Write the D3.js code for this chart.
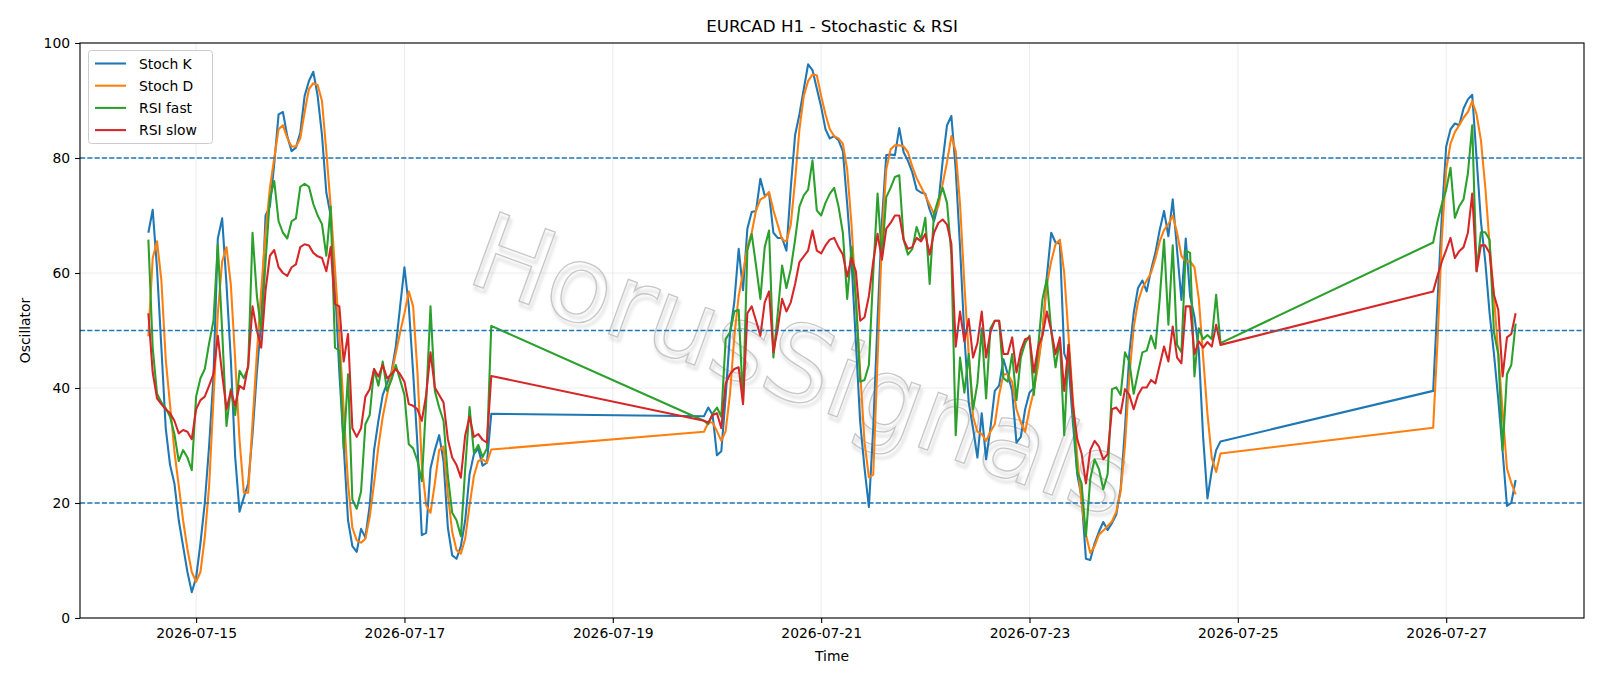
<!DOCTYPE html>
<html lang="en">
<head>
<meta charset="utf-8"/>
<title>EURCAD H1 - Stochastic & RSI</title>
<script src="https://d3js.org/d3.v7.min.js"></script>
<style>
  body { margin: 0; background: #fff; }
  svg text { font-family: "DejaVu Sans", sans-serif; }
</style>
</head>
<body>
<div id="chart"></div>
<script>
const width = 1600;
const height = 686;
const margin = {top: 43, right: 16, bottom: 68, left: 80};

// hourly bars, one block per trading session (UTC)
const sessionStarts = ["2026-07-14T13:00:00Z", "2026-07-19T21:00:00Z", "2026-07-26T21:00:00Z"];
const sessionBars = [80, 120, 20];

const stochK = [
  67, 71, 60.7, 47, 33, 26.6, 23.4, 17, 12.5, 8,
  4.5, 7, 13, 20, 30, 42, 66, 69.5, 58, 45,
  28, 18.5, 21, 23.4, 32, 42.7, 51.7, 70, 71.6, 79,
  87.6, 88, 83.8, 81.2, 81.8, 84.4, 90.8, 93.4, 95, 90.8,
  84, 74, 70, 58, 42.7, 30, 17, 12.5, 11.5, 15.5,
  14, 19.6, 29.2, 34.3, 38.8, 40.8, 42.7, 47.2, 54.2, 61,
  54.2, 42.7, 30, 14.4, 14.8, 26, 29.2, 31.8, 27.3, 15.7,
  10.9, 10.3, 12.5, 17, 25, 28.5, 29.5, 26.5, 27, 35.5,
  // session 2
  35.1, 36.6, 35.3, 28.3, 29, 38.5, 49.5, 55, 64.2, 57,
  67.7, 70.6, 70.8, 76.4, 73.5, 73.8, 67, 66.1, 66.1, 63.9,
  74.8, 84, 87.6, 92, 96.3, 95.3, 92.1, 88.9, 85, 83.4,
  83.8, 83.1, 81.2, 72, 62, 48, 34, 26, 19.3, 33,
  52, 69, 80.5, 80.6, 80.5, 85.2, 81, 79.5, 77.5, 74.5,
  74, 73.8, 71, 69, 72, 79.5, 85.7, 87.3, 78, 64.5,
  49, 37.5, 33, 27.9, 35.6, 27.6, 33, 39.5, 40.4, 45,
  42.4, 39.5, 30.5, 31.5, 36.3, 39.2, 40, 44.6, 49.7, 59.4,
  67, 65.3, 65.1, 46, 44, 34, 25, 21, 10.3, 10.1,
  13, 15, 16.7, 15.3, 16.5, 18, 22.5, 33, 46, 53,
  57.4, 58.7, 56.8, 60.5, 63.5, 67.5, 70.8, 66.4, 72.8, 64,
  55.3, 66, 56, 52.4, 46.6, 31.5, 20.8, 25.7, 29.2, 30.7,
  // session 3
  39.5, 55, 70, 82, 85, 86, 85.7, 88.6, 90.2, 91,
  80, 69, 62, 53, 46, 38, 29, 19.5, 20, 24
];

const stochD = [
  49, 62.6, 65.5, 58.7, 45, 37, 29, 23, 17, 12,
  8, 6.3, 8, 14, 23, 38, 53, 62, 64.5, 58,
  45, 31, 21.8, 21.8, 34, 46, 57, 67, 74.8, 80,
  85, 85.7, 83.5, 82, 82, 83.4, 88, 92, 93, 92.7,
  89.9, 81.2, 71.6, 60.7, 49.1, 36.3, 23.4, 15.7, 13.5, 13.1,
  13.8, 17.6, 23.4, 29.8, 35, 38.8, 42.4, 46, 49.7, 53,
  56.8, 54.2, 42.7, 26.6, 19.6, 18.3, 23.4, 29.2, 29.8, 21.5,
  15, 11.8, 11.2, 13.8, 19.6, 24.7, 27.3, 27.6, 27, 29.3,
  // session 2
  32.4, 34, 34, 32.5, 30.8, 32.5, 39, 49, 56, 60,
  64.5, 67, 70.9, 72.8, 73.2, 74.1, 70.9, 68.4, 65.8, 65.5,
  68.4, 76.1, 85, 90.8, 93.4, 94.5, 94.4, 90.8, 87.6, 85,
  83.8, 83.4, 82.5, 78, 68.4, 55.5, 42.7, 30.5, 24.5, 24.9,
  45, 66, 78, 81.5, 82.2, 82.2, 82, 81, 78.5, 76.5,
  75, 73.5, 71.9, 70.3, 71.6, 75.5, 79.3, 83.8, 81.2, 72,
  58, 45.8, 35, 32.4, 32, 30.8, 32.4, 33.7, 38.8, 42.4,
  42.4, 41.1, 36.3, 34, 32.4, 36.3, 39.5, 44, 49.7, 58,
  62, 65, 65.8, 60, 49, 38, 28, 20, 14.5, 11.3,
  12.5, 14.5, 15.2, 16, 16.8, 18.5, 22, 30, 42, 50.5,
  55, 57.4, 58.7, 60, 62.5, 65.5, 67.5, 68.5, 70, 67,
  63, 62, 62, 61, 55.5, 45.5, 35.5, 27.8, 25.4, 28.6,
  // session 3
  33.1, 48, 66, 78, 82.5, 84.5, 85.7, 87, 88, 89.9,
  87.6, 83.1, 75, 65, 56, 46, 36, 26, 23.5, 21.5
];

const rsiFast = [
  65.8, 47, 39, 37.5, 36.5, 35, 32, 27.3, 29.2, 27.9,
  25.7, 38.5, 41.7, 43.3, 47.8, 51.7, 65, 50, 33.4, 39.8,
  35.3, 43, 41.7, 43.6, 67, 56, 50, 62, 73, 76,
  69, 67, 66, 69, 69.5, 75, 75.5, 75, 72, 70,
  68.5, 63, 71.5, 47, 46.5, 29.5, 42.4, 20.6, 19, 22,
  33.7, 35.3, 43.3, 40.4, 44.6, 39.5, 41.4, 44, 41.4, 38.8,
  30.2, 29.5, 27.3, 23.8, 37.5, 54.2, 39.5, 36.6, 34.3, 24.7,
  18.3, 17, 14.2, 26, 36.7, 28.7, 30.1, 28, 29.5, 50.8,
  // session 2
  34.3, 33.7, 35.6, 36.6, 35, 48.5, 49.7, 53.3, 53.6, 37.5,
  63.9, 66.8, 61.3, 55.5, 64.5, 67.4, 45.3, 53, 61.3, 57.4,
  60.7, 65.8, 71.6, 73.5, 74.5, 79.6, 70.9, 70, 72.2, 73.8,
  74.8, 71.6, 67, 55.5, 64.5, 55.5, 41.1, 41.4, 44, 60,
  73.8, 62.6, 73.2, 74.8, 76.7, 77, 65.8, 63.2, 64.2, 68,
  65.8, 69.6, 58.1, 70.3, 72.8, 74.8, 72.2, 63.2, 31.8, 45.3,
  39.2, 45.9, 36.3, 40.8, 50.4, 38.2, 50.4, 51.7, 51.7, 41.7,
  41.1, 45.9, 37.9, 45.3, 47.8, 49.1, 38.8, 47.2, 55.5, 59,
  50, 43.6, 48.5, 31.8, 47.5, 36, 25.4, 23.4, 14.2, 24.2,
  27.6, 25.9, 22.4, 25, 39.8, 40.1, 38.8, 46.2, 44.6, 39,
  42.7, 46.2, 46.5, 49.1, 46.9, 55.5, 65.8, 51, 64.8, 47.5,
  46.2, 63.9, 63.5, 42, 50.4, 48.5, 49.2, 48.5, 56.2, 47.8,
  // session 3
  65.3, 69, 72, 74.5, 78.3, 69.6, 71.6, 72.8, 77.3, 85.7,
  60.3, 67.1, 67.1, 65.8, 49.7, 45.9, 29.2, 42.4, 44, 51.2
];

const rsiSlow = [
  53, 42.7, 38.2, 37.2, 36.3, 35.6, 34.3, 32.1, 32.7, 32.4,
  31.1, 36.3, 37.9, 38.5, 40.4, 42.4, 49.1, 42.4, 36.3, 39.5,
  36.9, 40.4, 39.8, 44, 54.2, 50, 47, 57, 63, 64,
  61, 60, 59.5, 61, 61.5, 64.5, 65, 64.8, 63.5, 62.9,
  62.6, 60.3, 64.5, 54.6, 54.2, 44.6, 49.4, 33, 31.5, 33,
  38.5, 39.8, 43.3, 42, 44, 41.7, 42.4, 43.3, 42.4, 41.1,
  37.2, 36.9, 36.3, 34.3, 38.8, 46.2, 40.1, 38.8, 37.5, 31.1,
  27.9, 26.6, 24.4, 31.8, 35, 31.5, 32, 31, 30.5, 42.1,
  // session 2
  34.3, 34, 35.3, 35.6, 33, 40.8, 42.4, 43.3, 43.6, 37.2,
  53, 54.2, 51.7, 49.1, 54.9, 56.8, 46.2, 50.4, 55.5, 53.3,
  54.9, 58.1, 61.9, 62.9, 63.9, 67.4, 63.9, 63.4, 64.8, 65.8,
  66.1, 64.5, 63.2, 59.4, 62.6, 60.3, 51.7, 52.3, 56, 62,
  66.8, 62.3, 67.7, 68.7, 70, 70, 65.8, 64.2, 64.5, 66.1,
  65.5, 66.8, 63.2, 67, 68.7, 69.3, 68.4, 65.1, 47.2, 53.3,
  48.1, 52, 45.3, 47.8, 53.3, 45.3, 49.7, 51.7, 51.7, 45.9,
  45.9, 48.8, 42.7, 46.5, 48.5, 48.8, 42.7, 47.2, 49.1, 53.3,
  50, 45.9, 48.8, 39.5, 47.5, 37, 31.1, 28.6, 23.4, 29.2,
  30.8, 29.8, 27.6, 28.5, 36.3, 36.6, 35.6, 39.8, 38.8, 36.3,
  38.8, 40.1, 40.1, 41.4, 40.8, 44, 47.2, 44.6, 50.7, 45.3,
  44.3, 54.2, 54.2, 45.9, 48.1, 47, 48, 47.2, 51, 47.5,
  // session 3
  56.8, 59.5, 62, 64, 66.1, 62.6, 63.8, 64.5, 67, 73.8,
  60.3, 64.8, 64.8, 63.5, 56.2, 53.6, 42, 48.8, 49.4, 53
];

const seriesNames = ["Stoch K", "Stoch D", "RSI fast", "RSI slow"];
const seriesColors = ["#1f77b4", "#ff7f0e", "#2ca02c", "#d62728"];
const levels = [20, 50, 80];
const yTicks = [0, 20, 40, 60, 80, 100];
const xTickDates = ["2026-07-15", "2026-07-17", "2026-07-19", "2026-07-21", "2026-07-23", "2026-07-25", "2026-07-27"];

// time of every bar
const times = [];
sessionStarts.forEach((s, k) => {
  const t0 = new Date(s);
  for (let i = 0; i < sessionBars[k]; i++) times.push(d3.utcHour.offset(t0, i));
});

const series = [stochK, stochD, rsiFast, rsiSlow];

const svg = d3.select("#chart")
  .append("svg")
  .attr("width", width)
  .attr("height", height)
  .style("display", "block");

const defs = svg.append("defs");
defs.append("filter").attr("id", "wmshadow")
  .append("feGaussianBlur").attr("stdDeviation", 1.8);
defs.append("clipPath").attr("id", "plotclip")
  .append("rect")
  .attr("x", margin.left).attr("y", margin.top)
  .attr("width", width - margin.left - margin.right)
  .attr("height", height - margin.top - margin.bottom);

// matplotlib-like 5% margin on the time axis
const tFirst = times[0], tLast = times[times.length - 1];
const pad = (tLast - tFirst) * 0.05;
const x = d3.scaleUtc()
  .domain([new Date(+tFirst - pad), new Date(+tLast + pad)])
  .range([margin.left, width - margin.right]);

const y = d3.scaleLinear()
  .domain([0, 100])
  .range([height - margin.bottom, margin.top]);

const xTicks = xTickDates.map(d => new Date(d + "T00:00:00Z"));

// grid
const grid = svg.append("g").attr("stroke", "#b0b0b0").attr("stroke-opacity", 0.3).attr("stroke-width", 0.8);
grid.selectAll(".gx").data(xTicks).enter().append("line")
  .attr("x1", d => x(d)).attr("x2", d => x(d))
  .attr("y1", margin.top).attr("y2", height - margin.bottom);
grid.selectAll(".gy").data(yTicks).enter().append("line")
  .attr("x1", margin.left).attr("x2", width - margin.right)
  .attr("y1", d => y(d)).attr("y2", d => y(d));

// watermark
const wmX = 801, wmY = 365;
const wm = svg.append("g").attr("transform", "translate(" + wmX + "," + wmY + ") rotate(20)");
wm.append("text")
  .attr("x", 3).attr("y", 3)
  .attr("text-anchor", "middle").attr("dominant-baseline", "central")
  .style("font-size", "106px")
  .attr("fill", "none").attr("stroke", "#a8a8a8").attr("stroke-width", 2.6)
  .attr("stroke-opacity", 0.35)
  .attr("filter", "url(#wmshadow)")
  .text("HorusSignals");
wm.append("text")
  .attr("text-anchor", "middle").attr("dominant-baseline", "central")
  .style("font-size", "106px")
  .attr("fill", "none").attr("stroke", "#c6c6c6").attr("stroke-width", 1.3)
  .text("HorusSignals");

// series lines
const line = d3.line()
  .x((d, i) => x(times[i]))
  .y(d => y(d));

svg.append("g").attr("clip-path", "url(#plotclip)")
  .selectAll("path")
  .data(series)
  .enter()
  .append("path")
  .attr("fill", "none")
  .attr("stroke", (_, i) => seriesColors[i])
  .attr("stroke-width", 2.08)
  .attr("stroke-linejoin", "round")
  .attr("d", line);

// reference levels
svg.append("g").selectAll("line")
  .data(levels)
  .enter()
  .append("line")
  .attr("x1", margin.left).attr("x2", width - margin.right)
  .attr("y1", d => y(d)).attr("y2", d => y(d))
  .attr("stroke", "#1f77b4")
  .attr("stroke-width", 1.39)
  .attr("stroke-dasharray", "5.1,2.2");

// frame
svg.append("rect")
  .attr("x", margin.left).attr("y", margin.top)
  .attr("width", width - margin.left - margin.right)
  .attr("height", height - margin.top - margin.bottom)
  .attr("fill", "none").attr("stroke", "#000").attr("stroke-width", 1.1);

// axes
const xAxis = svg.append("g")
  .attr("transform", "translate(0," + (height - margin.bottom) + ")")
  .call(d3.axisBottom(x).tickValues(xTicks).tickFormat(d3.utcFormat("%Y-%m-%d"))
    .tickSize(4.9).tickPadding(5));
const yAxis = svg.append("g")
  .attr("transform", "translate(" + margin.left + ",0)")
  .call(d3.axisLeft(y).tickValues(yTicks).tickSize(4.9).tickPadding(5));

[xAxis, yAxis].forEach(a => {
  a.select(".domain").remove();
  a.selectAll(".tick line").attr("stroke", "#000").attr("stroke-width", 1.1);
  a.selectAll(".tick text")
    .attr("fill", "#000")
    .style("font-family", "'DejaVu Sans', sans-serif")
    .style("font-size", "13.9px");
});

// titles
svg.append("text")
  .attr("x", (margin.left + width - margin.right) / 2).attr("y", 32)
  .attr("text-anchor", "middle")
  .style("font-size", "16.7px")
  .text("EURCAD H1 - Stochastic & RSI");

svg.append("text")
  .attr("x", (margin.left + width - margin.right) / 2).attr("y", 661)
  .attr("text-anchor", "middle")
  .style("font-size", "13.9px")
  .text("Time");

svg.append("text")
  .attr("transform", "translate(30," + (margin.top + height - margin.bottom) / 2 + ") rotate(-90)")
  .attr("text-anchor", "middle")
  .style("font-size", "13.9px")
  .text("Oscillator");

// legend
const legend = svg.append("g");
legend.append("rect")
  .attr("x", 88.5).attr("y", 50.5)
  .attr("width", 124).attr("height", 93)
  .attr("rx", 3).attr("ry", 3)
  .attr("fill", "#fff").attr("fill-opacity", 0.8)
  .attr("stroke", "#cccccc").attr("stroke-width", 1);

const rows = legend.selectAll(".row")
  .data(seriesNames)
  .enter()
  .append("g")
  .attr("transform", (_, i) => "translate(0," + (63.5 + i * 22.2) + ")");
rows.append("line")
  .attr("x1", 95).attr("x2", 126)
  .attr("stroke", (_, i) => seriesColors[i])
  .attr("stroke-width", 2.08);
rows.append("text")
  .attr("x", 139).attr("dy", "0.36em")
  .style("font-size", "13.9px")
  .text(d => d);
</script>
</body>
</html>
